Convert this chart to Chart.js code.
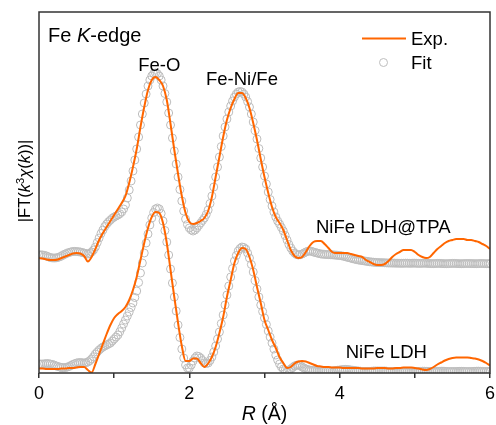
<!DOCTYPE html>
<html>
<head>
<meta charset="utf-8">
<script src="https://cdn.jsdelivr.net/npm/chart.js@4.4.1/dist/chart.umd.min.js"></script>
<style>
  body { margin: 0; background: #fff; }
  #wrap { width: 496px; height: 425px; }
</style>
</head>
<body>
<div id="wrap"><canvas id="ftChart" width="496" height="425"></canvas></div>
<script>
// R grid (Å) for the experimental curves, 0.05 step
const rExp = [
    0, 0.05, 0.1, 0.15, 0.2, 0.25, 0.3, 0.35, 0.4, 0.45,
    0.5, 0.55, 0.6, 0.65, 0.7, 0.75, 0.8, 0.85, 0.9, 0.95,
    1, 1.05, 1.1, 1.15, 1.2, 1.25, 1.3, 1.35, 1.4, 1.45,
    1.5, 1.55, 1.6, 1.65, 1.7, 1.75, 1.8, 1.85, 1.9, 1.95,
    2, 2.05, 2.1, 2.15, 2.2, 2.25, 2.3, 2.35, 2.4, 2.45,
    2.5, 2.55, 2.6, 2.65, 2.7, 2.75, 2.8, 2.85, 2.9, 2.95,
    3, 3.05, 3.1, 3.15, 3.2, 3.25, 3.3, 3.35, 3.4, 3.45,
    3.5, 3.55, 3.6, 3.65, 3.7, 3.75, 3.8, 3.85, 3.9, 3.95,
    4, 4.05, 4.1, 4.15, 4.2, 4.25, 4.3, 4.35, 4.4, 4.45,
    4.5, 4.55, 4.6, 4.65, 4.7, 4.75, 4.8, 4.85, 4.9, 4.95,
    5, 5.05, 5.1, 5.15, 5.2, 5.25, 5.3, 5.35, 5.4, 5.45,
    5.5, 5.55, 5.6, 5.65, 5.7, 5.75, 5.8, 5.85, 5.9, 5.95,
    6
]

// R grid (Å) for the fits, 0.025 step
const rFit = [
    0, 0.025, 0.05, 0.075, 0.1, 0.125, 0.15, 0.175, 0.2, 0.225,
    0.25, 0.275, 0.3, 0.325, 0.35, 0.375, 0.4, 0.425, 0.45, 0.475,
    0.5, 0.525, 0.55, 0.575, 0.6, 0.625, 0.65, 0.675, 0.7, 0.725,
    0.75, 0.775, 0.8, 0.825, 0.85, 0.875, 0.9, 0.925, 0.95, 0.975,
    1, 1.025, 1.05, 1.075, 1.1, 1.125, 1.15, 1.175, 1.2, 1.225,
    1.25, 1.275, 1.3, 1.325, 1.35, 1.375, 1.4, 1.425, 1.45, 1.475,
    1.5, 1.525, 1.55, 1.575, 1.6, 1.625, 1.65, 1.675, 1.7, 1.725,
    1.75, 1.775, 1.8, 1.825, 1.85, 1.875, 1.9, 1.925, 1.95, 1.975,
    2, 2.025, 2.05, 2.075, 2.1, 2.125, 2.15, 2.175, 2.2, 2.225,
    2.25, 2.275, 2.3, 2.325, 2.35, 2.375, 2.4, 2.425, 2.45, 2.475,
    2.5, 2.525, 2.55, 2.575, 2.6, 2.625, 2.65, 2.675, 2.7, 2.725,
    2.75, 2.775, 2.8, 2.825, 2.85, 2.875, 2.9, 2.925, 2.95, 2.975,
    3, 3.025, 3.05, 3.075, 3.1, 3.125, 3.15, 3.175, 3.2, 3.225,
    3.25, 3.275, 3.3, 3.325, 3.35, 3.375, 3.4, 3.425, 3.45, 3.475,
    3.5, 3.525, 3.55, 3.575, 3.6, 3.625, 3.65, 3.675, 3.7, 3.725,
    3.75, 3.775, 3.8, 3.825, 3.85, 3.875, 3.9, 3.925, 3.95, 3.975,
    4, 4.025, 4.05, 4.075, 4.1, 4.125, 4.15, 4.175, 4.2, 4.225,
    4.25, 4.275, 4.3, 4.325, 4.35, 4.375, 4.4, 4.425, 4.45, 4.475,
    4.5, 4.525, 4.55, 4.575, 4.6, 4.625, 4.65, 4.675, 4.7, 4.725,
    4.75, 4.775, 4.8, 4.825, 4.85, 4.875, 4.9, 4.925, 4.95, 4.975,
    5, 5.025, 5.05, 5.075, 5.1, 5.125, 5.15, 5.175, 5.2, 5.225,
    5.25, 5.275, 5.3, 5.325, 5.35, 5.375, 5.4, 5.425, 5.45, 5.475,
    5.5, 5.525, 5.55, 5.575, 5.6, 5.625, 5.65, 5.675, 5.7, 5.725,
    5.75, 5.775, 5.8, 5.825, 5.85, 5.875, 5.9, 5.925, 5.95, 5.975,
    6
]

// NiFe LDH@TPA (offset upwards), arbitrary units
const tpaExp = [
    115, 114.5, 113.5, 113, 113, 113.5, 115, 116.5, 118, 119.5,
    120, 119.5, 117, 111.5, 116, 124, 133, 140, 146, 152,
    158, 164, 170, 177, 190, 206, 224, 246, 266, 283,
    293, 296, 293, 287, 273, 249, 223, 199, 177, 160,
    151, 149, 150, 152, 155, 162, 176, 196, 216, 236,
    253, 265, 274, 280, 280, 275, 265, 250, 233, 214,
    196, 180, 166, 156, 150, 143, 133, 123, 117, 115,
    116, 121, 127, 131, 132, 132, 129, 125, 121, 120,
    120, 120, 120, 119, 118, 117, 116, 113, 111, 109,
    108, 108, 109, 112, 116, 119, 121, 123, 123, 123,
    121, 118, 116, 115, 116, 120, 124, 127, 130, 132,
    133, 134, 134, 134, 133, 133, 132, 131, 129, 127,
    124
]
const tpaFit = [
    118, 118.2, 118, 117.6, 117, 116.2, 115.5, 115.1, 115, 115.1,
    115.5, 116.2, 117, 118, 119, 119.8, 120.5, 121.1, 121.5, 121.6,
    121.5, 121.3, 121, 120.5, 120, 119.4, 119, 119.6, 121, 123,
    126, 130.5, 135, 139.5, 143, 146.5, 149, 151.2, 153, 154.7,
    156, 157, 158, 159.3, 161, 164, 168, 175, 183, 192,
    202, 213, 224, 236, 248, 259, 270, 279, 287, 293,
    297, 299.3, 300, 299.3, 297, 293, 287, 279.5, 271, 260,
    248, 235, 222, 209, 196, 183.5, 172, 162, 154, 148.5,
    145, 143, 142, 143, 145, 147.5, 150, 152.5, 155, 158.5,
    163, 169.5, 177, 186, 196, 206, 216, 226.5, 237, 246,
    254, 261, 267, 272, 276, 279, 281, 281.5, 281, 279,
    276, 271.5, 266, 259, 251, 242.5, 234, 224.5, 215, 206,
    197, 189, 181, 173.5, 167, 161, 156, 152, 149, 145.5,
    142, 137.5, 133, 128.5, 125, 122, 120, 118.5, 118, 118.3,
    119, 120, 121, 121.7, 122, 121.7, 121, 120.5, 120, 119.5,
    119, 118.8, 118.6, 118.5, 118.4, 118.3, 118.2, 118, 117.8, 117.6,
    117.5, 117.2, 116.8, 116.3, 115.8, 115.3, 114.8, 114.3, 113.8, 113.4,
    113, 112.7, 112.4, 112.1, 111.8, 111.5, 111.2, 111, 110.8, 110.6,
    110.5, 110.4, 110.3, 110.3, 110.2, 110.1, 110, 110, 109.9, 109.9,
    109.8, 109.8, 109.7, 109.7, 109.7, 109.8, 109.8, 109.7, 109.7, 109.8,
    109.8, 109.7, 109.6, 109.6, 109.7, 109.8, 109.7, 109.6, 109.5, 109.4,
    109.4, 109.5, 109.6, 109.6, 109.5, 109.4, 109.3, 109.3, 109.4, 109.5,
    109.6, 109.6, 109.5, 109.4, 109.3, 109.3, 109.4, 109.5, 109.5, 109.5,
    109.4, 109.4, 109.3, 109.3, 109.4, 109.5, 109.5, 109.4, 109.3, 109.3,
    109.4
]

// NiFe LDH (bottom)
const ldhExp = [
    4.5, 4.5, 4, 4, 4, 4, 4.5, 4.5, 5, 5,
    5.5, 6, 6, 3, 0.5, 9, 19, 29, 39, 48,
    55, 59, 62, 66, 73, 83, 96, 113, 130, 145,
    156, 161, 160, 150, 130, 103, 76, 50, 27, 12,
    12, 14.5, 14.5, 10, 6, 9.5, 16, 26, 40, 56,
    76, 93, 110, 120, 125, 124, 116, 103, 86, 70,
    53, 43, 33, 25, 16, 10, 5, 6, 9.5, 11.5,
    12, 11.5, 10, 8.5, 7, 6.5, 6, 6, 5.5, 5.5,
    5.5, 5, 5, 5, 5, 5, 4.5, 4.5, 4.5, 4.5,
    5, 5, 5, 4.5, 4.5, 5, 5, 5.5, 5.5, 5.5,
    5, 4.5, 3.5, 3, 4, 6, 8.5, 10.5, 12.5, 14,
    15, 15.5, 15.5, 15.5, 15.5, 15, 14.5, 13.5, 12, 10,
    7.5
]
const ldhFit = [
    9, 9, 9, 9.2, 9.5, 9.4, 9, 8.6, 8, 7.2,
    6.5, 6, 5.5, 5.4, 5.5, 5.9, 6.5, 7.5, 8.5, 9.3,
    10, 10.4, 10.5, 10.3, 10, 10.3, 11, 12.3, 14, 16.3,
    19, 21, 23, 24.6, 26, 27, 28, 29, 30, 32,
    34, 36, 38, 41.3, 45, 49, 53, 57, 61, 65.5,
    70, 75.5, 82, 90.5, 100, 110, 120, 130, 139, 148,
    155, 160.5, 164, 165, 164, 159.5, 152, 142.5, 131, 118,
    104, 90, 76, 62, 48, 35.5, 24, 15, 8, 5,
    5, 8, 12, 15, 17, 16.5, 15, 12.5, 10, 9.5,
    10, 12.5, 16, 21, 27, 34, 41, 49.5, 58, 68,
    78, 87, 96, 104.5, 112, 117.5, 122, 124.5, 126, 125.5,
    124, 120, 115, 108.5, 101, 92.5, 84, 76, 68, 61.5,
    55, 48.5, 42, 36, 30, 24, 18, 13, 9, 6,
    4, 2.5, 2, 2.8, 4, 5.5, 7, 7.8, 8, 7.3,
    6, 5, 4, 3.4, 3, 2.7, 2.5, 2.5, 2.5, 2.5,
    2.5, 2.5, 2.5, 2.3, 2, 2, 2, 2.2, 2.5, 2.8,
    3, 3.3, 3.5, 3.6, 3.5, 3.3, 3, 2.8, 2.5, 2.2,
    2, 1.8, 1.5, 1.5, 1.5, 1.5, 1.5, 1.7, 2, 2,
    2, 2, 2, 2, 2, 1.8, 1.5, 1.5, 1.5, 1.5,
    1.5, 1.5, 1.5, 1.5, 1.5, 1.5, 1.5, 1.6, 1.7, 1.7,
    1.6, 1.5, 1.5, 1.6, 1.8, 1.8, 1.7, 1.6, 1.5, 1.5,
    1.5, 1.5, 1.6, 1.7, 1.8, 1.8, 1.7, 1.6, 1.5, 1.5,
    1.5, 1.5, 1.5, 1.6, 1.7, 1.7, 1.6, 1.5, 1.5, 1.5,
    1.5, 1.6, 1.7, 1.8, 1.8, 1.7, 1.6, 1.5, 1.5, 1.5,
    1.5
]

const xTickLabels = [0, 2, 4, 6]

const ORANGE = '#ff6600'
const GREY = '#bdbdbd'
const FONT = "'Liberation Sans', Arial, sans-serif"

const toPoints = (xs, ys) => ys.map((y, i) => ({ x: xs[i], y: y }))

// draws a line of text made of parts with their own style
const drawRich = (ctx, parts, x, y, align, size) => {
    const fontOf = p => (p.style || '') + ' ' + (p.size || size || 18.5) + 'px ' + FONT
    let total = 0
    parts.forEach(p => { ctx.font = fontOf(p); total += ctx.measureText(p.t).width })
    let cx = align === 'center' ? x - total / 2 : x
    ctx.textAlign = 'left'
    parts.forEach(p => {
        ctx.font = fontOf(p)
        ctx.fillText(p.t, cx, y + (p.dy || 0))
        cx += ctx.measureText(p.t).width
    })
}

const annotations = {
    id: 'annotations',
    afterDraw: (chart) => {
        const {ctx, chartArea: a, scales: {x}} = chart
        ctx.save()
        ctx.strokeStyle = '#333'
        ctx.lineWidth = 1.5
        ctx.strokeRect(a.left, a.top, a.right - a.left, a.bottom - a.top)

        ctx.fillStyle = '#000'
        ctx.textBaseline = 'alphabetic'
        drawRich(ctx, [{t: 'Fe '}, {t: 'K', style: 'italic'}, {t: '-edge'}], a.left + 9, 41.5, 'left', 20)
        drawRich(ctx, [{t: 'Fe-O'}], x.getPixelForValue(1.6), 71, 'center')
        drawRich(ctx, [{t: 'Fe-Ni/Fe'}], x.getPixelForValue(2.7), 85, 'center')
        drawRich(ctx, [{t: 'NiFe LDH@TPA'}], x.getPixelForValue(4.58), 232.5, 'center')
        drawRich(ctx, [{t: 'NiFe LDH'}], x.getPixelForValue(4.62), 357.5, 'center')

        // legend
        ctx.strokeStyle = ORANGE
        ctx.lineWidth = 2
        ctx.beginPath()
        ctx.moveTo(362, 38.5)
        ctx.lineTo(406, 38.5)
        ctx.stroke()
        ctx.strokeStyle = GREY
        ctx.lineWidth = 1
        ctx.beginPath()
        ctx.arc(383.5, 62.5, 4, 0, Math.PI * 2)
        ctx.stroke()
        drawRich(ctx, [{t: 'Exp.'}], 411, 44.5, 'left')
        drawRich(ctx, [{t: 'Fit'}], 411, 69, 'left')

        // axis titles
        drawRich(ctx, [{t: 'R', style: 'italic'}, {t: ' (Å)'}], (a.left + a.right) / 2, 420, 'center', 19.5)
        ctx.translate(30, 181)
        ctx.rotate(-Math.PI / 2)
        drawRich(ctx, [
            {t: '|FT('}, {t: 'k', style: 'italic'}, {t: '3', size: 11, dy: -6},
            {t: 'χ', style: 'italic'}, {t: '('}, {t: 'k', style: 'italic'}, {t: '))|'}
        ], 0, 0, 'center', 16.5)
        ctx.restore()
    }
}

const expLine = (data) => ({
    data: toPoints(rExp, data),
    borderColor: ORANGE,
    borderWidth: 2,
    pointRadius: 0,
    cubicInterpolationMode: 'monotone',
    fill: false,
    order: 0
})

const fitPoints = (data) => ({
    data: toPoints(rFit, data),
    showLine: false,
    pointStyle: 'circle',
    pointRadius: 4,
    pointBorderWidth: 1,
    pointBorderColor: GREY,
    pointBackgroundColor: 'rgba(0,0,0,0)',
    order: 1
})

new Chart(document.getElementById('ftChart'), {
    type: 'line',
    data: {
        datasets: [expLine(tpaExp), expLine(ldhExp), fitPoints(tpaFit), fitPoints(ldhFit)]
    },
    options: {
        responsive: false,
        animation: false,
        events: [],
        layout: {
            padding: { left: 39, top: 12, right: 6, bottom: 0 }
        },
        plugins: {
            legend: { display: false },
            tooltip: { enabled: false }
        },
        scales: {
            x: {
                type: 'linear',
                min: 0,
                max: 6,
                ticks: {
                    stepSize: 1,
                    autoSkip: false,
                    maxRotation: 0,
                    padding: 5,
                    color: '#000',
                    font: { family: FONT, size: 18 },
                    callback: v => xTickLabels.includes(v) ? v : ''
                },
                grid: {
                    display: true,
                    drawOnChartArea: false,
                    drawTicks: true,
                    tickLength: 5,
                    color: '#333',
                    lineWidth: 1.5
                },
                border: { display: false },
                afterFit: s => {
                    s.height = 52
                    s.paddingLeft = 0
                    s.paddingRight = 0
                }
            },
            y: {
                display: false,
                min: 0,
                max: 361
            }
        }
    },
    plugins: [annotations]
})
</script>
</body>
</html>
